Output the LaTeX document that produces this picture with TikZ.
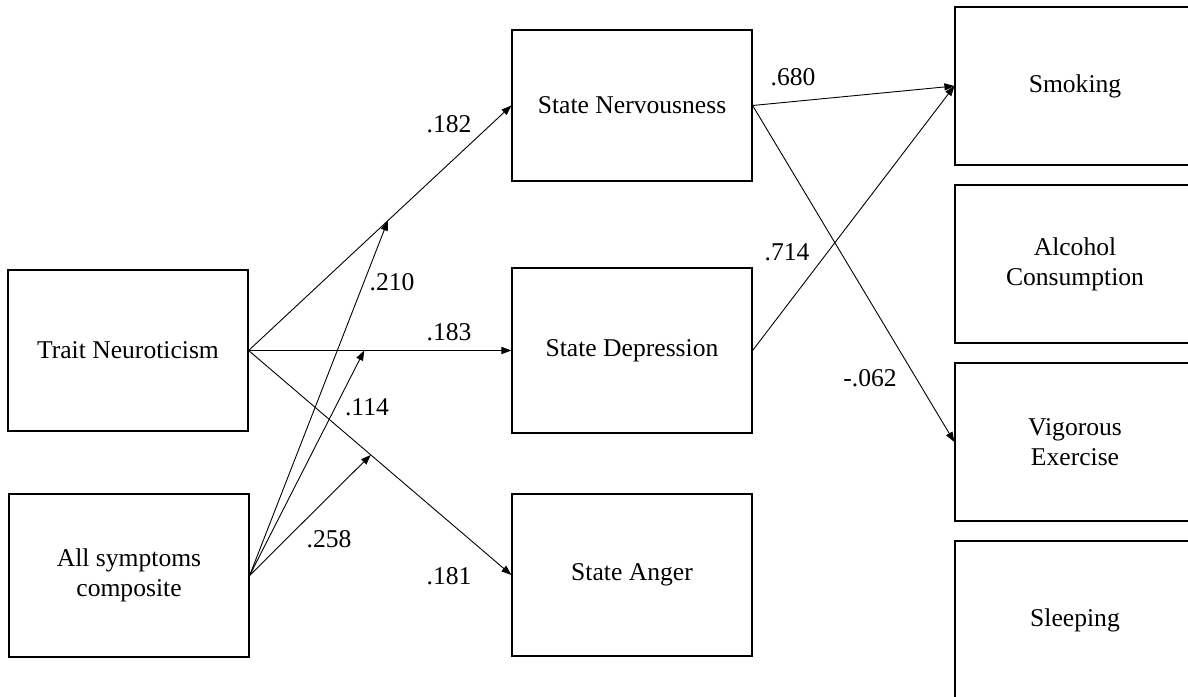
\documentclass[tikz,border=0pt]{standalone}
\usepackage{fontspec}
\setmainfont{Liberation Serif}
\usetikzlibrary{arrows.meta, positioning}

\begin{document}
\begin{tikzpicture}[x=0.5pt, y=-0.5pt, >={Triangle[length=5pt, width=3.6pt]},
  every node/.style={font=\fontsize{12.8}{15}\selectfont},
  varbox/.style={draw, line width=0.6pt, inner sep=0pt,
                 minimum width=120pt, minimum height=80.5pt, align=center},
  effect/.style={->, line width=0.45pt},
  coef/.style={inner sep=0pt}]
  \useasboundingbox (0,0) rectangle (1188,696);

  % predictors
  \node[varbox] (trait) at (128,350.5) {Trait Neuroticism};
  \node[varbox, minimum height=81.5pt] (symp) at (129,575.5) {All symptoms\\composite};

  % states
  \node[varbox, minimum height=75.5pt] (nerv) at (632,105.5) {State Nervousness};
  \node[varbox, minimum height=82.5pt] (dep) at (632,350.5) {State Depression};
  \node[varbox, minimum height=81pt] (ang) at (632,575) {State Anger};

  % behaviours
  \node[varbox, minimum height=79pt] (smoke) at (1075,86) {Smoking};
  \node[varbox, minimum height=79pt] (alc) at (1075,264) {Alcohol\\Consumption};
  \node[varbox, minimum height=79pt] (vig) at (1075,442) {Vigorous\\Exercise};
  \node[varbox, minimum height=79pt] (sleep) at (1075,620) {Sleeping};

  % paths from trait neuroticism
  \draw[effect] (trait.east) -- coordinate[pos=0.53] (mNerv) (nerv.west);
  \draw[effect] (trait.east) -- coordinate[pos=0.44] (mDep) (dep.west);
  \draw[effect] (trait.east) -- coordinate[pos=0.465] (mAng) (ang.west);

  % moderation by symptoms
  \draw[effect] (symp.east) -- (mNerv);
  \draw[effect] (symp.east) -- (mDep);
  \draw[effect] (symp.east) -- (mAng);

  % states to behaviours
  \draw[effect] (nerv.east) -- (smoke.west);
  \draw[effect] (dep.east) -- (smoke.west);
  \draw[effect] (nerv.east) -- (vig.west);

  % coefficients
  \node[coef] (c182) at (449,124) {.182};
  \node[coef] (c210) at (392,282) {.210};
  \node[coef] (c183) at (449,332) {.183};
  \node[coef] (c114) at (367,407) {.114};
  \node[coef] (c258) at (329,539) {.258};
  \node[coef] (c181) at (449,576) {.181};
  \node[coef] (c680) at (793,77) {.680};
  \node[coef] (c714) at (787,252) {.714};
  \node[coef] (c062) at (870,378) {-.062};
\end{tikzpicture}
\end{document}
